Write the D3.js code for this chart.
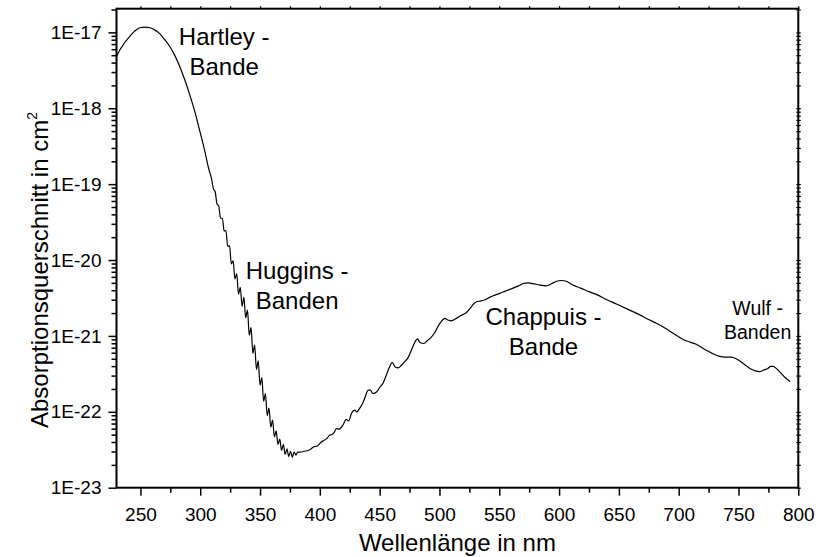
<!DOCTYPE html>
<html>
<head>
<meta charset="utf-8">
<script src="https://cdn.jsdelivr.net/npm/d3@7"></script>
<style>
  body { margin: 0; background: #fff; }
  svg { display: block; }
  text { font-family: "Liberation Sans", Arial, Helvetica, sans-serif; fill: #000; }
</style>
</head>
<body>
<svg id="chart" width="816" height="557"></svg>
<script>
// Ozone (O3) absorption cross-section vs. wavelength
const wavelengths = [
  230.0, 232.9, 235.0, 237.1, 241.3, 245.5, 249.6, 253.8, 258.0, 262.2,
  266.3, 270.5, 274.7, 278.9, 283.1, 287.2, 291.4, 295.6, 299.8, 303.9,
  307.0, 309.5, 311.0, 312.5, 314.0, 315.5, 317.0, 318.5, 320.0, 321.5,
  323.0, 324.5, 326.0, 327.5, 329.0, 330.5, 332.0, 333.5, 335.0, 336.5,
  338.0, 339.5, 341.0, 342.5, 344.0, 345.5, 347.0, 348.5, 350.0, 351.5,
  353.0, 354.5, 356.0, 357.5, 359.0, 360.5, 362.0, 363.5, 365.0, 366.5,
  368.0, 369.5, 371.0, 372.5, 374.0, 375.5, 377.0, 378.5, 380.0, 381.5,
  383.3, 387.0, 391.7, 395.0, 398.0, 401.0, 403.0, 406.0, 408.0, 410.0,
  412.0, 414.0, 416.0, 419.5, 422.0, 424.0, 426.5, 429.0, 431.0, 433.4,
  436.0, 438.0, 440.0, 442.0, 444.5, 447.4, 450.0, 452.9, 456.0, 458.5,
  460.5, 463.0, 465.5, 468.0, 471.0, 474.0, 477.0, 479.5, 481.5, 484.0,
  487.0, 490.0, 493.0, 496.0, 499.0, 502.0, 504.4, 507.0, 510.0, 514.0,
  518.0, 522.0, 526.0, 529.0, 531.0, 534.0, 537.0, 541.0, 545.0, 550.4,
  555.0, 561.5, 566.0, 570.0, 574.0, 578.0, 583.8, 589.4, 594.0, 598.0,
  601.9, 606.0, 611.6, 618.0, 625.6, 632.0, 639.5, 648.0, 659.0, 667.0,
  675.7, 681.0, 686.8, 692.0, 698.0, 703.0, 709.1, 714.7, 718.0, 723.1,
  728.0, 734.2, 739.0, 744.0, 748.1, 753.6, 757.0, 760.7, 764.0, 767.6,
  771.0, 774.5, 777.0, 779.0, 782.9, 785.5, 788.5, 793.2
];

// cross-section in cm^2
const crossSections = [
  4.79e-18, 5.89e-18, 6.61e-18, 7.41e-18, 8.91e-18, 1.05e-17, 1.15e-17, 1.17e-17, 1.15e-17, 1.07e-17,
  9.55e-18, 7.94e-18, 6.46e-18, 4.90e-18, 3.47e-18, 2.34e-18, 1.48e-18, 8.91e-19, 4.90e-19, 2.69e-19,
  1.62e-19, 1.17e-19, 8.71e-20, 7.94e-20, 5.50e-20, 5.13e-20, 3.55e-20, 3.55e-20, 2.40e-20, 2.45e-20,
  1.51e-20, 1.55e-20, 8.91e-21, 9.77e-21, 5.62e-21, 6.61e-21, 3.55e-21, 4.37e-21, 2.45e-21, 3.24e-21,
  1.74e-21, 2.19e-21, 1.02e-21, 1.29e-21, 5.89e-22, 7.59e-22, 3.63e-22, 4.68e-22, 2.24e-22, 2.82e-22,
  1.38e-22, 1.74e-22, 8.91e-23, 1.12e-22, 6.31e-23, 7.76e-23, 4.68e-23, 5.62e-23, 3.72e-23, 4.37e-23,
  3.09e-23, 3.72e-23, 2.75e-23, 3.24e-23, 2.57e-23, 3.02e-23, 2.51e-23, 2.95e-23, 2.69e-23, 2.95e-23,
  2.95e-23, 3.02e-23, 3.16e-23, 3.47e-23, 3.55e-23, 3.98e-23, 4.17e-23, 4.47e-23, 4.90e-23, 5.01e-23,
  5.37e-23, 6.03e-23, 5.89e-23, 6.76e-23, 7.94e-23, 7.59e-23, 9.55e-23, 1.05e-22, 1.00e-22, 1.12e-22,
  1.32e-22, 1.58e-22, 1.91e-22, 1.95e-22, 1.74e-22, 1.82e-22, 2.09e-22, 2.40e-22, 3.16e-22, 3.98e-22,
  4.47e-22, 3.89e-22, 3.80e-22, 4.07e-22, 4.57e-22, 5.25e-22, 6.76e-22, 8.32e-22, 9.12e-22, 8.13e-22,
  7.94e-22, 8.71e-22, 9.55e-22, 1.10e-21, 1.35e-21, 1.58e-21, 1.70e-21, 1.62e-21, 1.58e-21, 1.70e-21,
  1.86e-21, 2.00e-21, 2.34e-21, 2.69e-21, 2.82e-21, 2.88e-21, 2.95e-21, 3.16e-21, 3.39e-21, 3.63e-21,
  3.89e-21, 4.27e-21, 4.57e-21, 4.90e-21, 5.01e-21, 4.90e-21, 4.68e-21, 4.57e-21, 4.90e-21, 5.25e-21,
  5.37e-21, 5.25e-21, 4.68e-21, 4.27e-21, 3.80e-21, 3.47e-21, 3.02e-21, 2.63e-21, 2.19e-21, 1.91e-21,
  1.62e-21, 1.48e-21, 1.32e-21, 1.17e-21, 1.02e-21, 9.12e-22, 8.32e-22, 7.76e-22, 7.24e-22, 6.46e-22,
  5.89e-22, 5.37e-22, 5.25e-22, 5.25e-22, 5.01e-22, 4.37e-22, 3.98e-22, 3.63e-22, 3.47e-22, 3.39e-22,
  3.55e-22, 3.72e-22, 3.98e-22, 3.98e-22, 3.55e-22, 3.24e-22, 2.88e-22, 2.51e-22
];

const xMajorTicks = [250, 300, 350, 400, 450, 500, 550, 600, 650, 700, 750, 800];
const xMinorTicks = [275, 325, 375, 425, 475, 525, 575, 625, 675, 725, 775];
const yMajorTicks = [1e-23, 1e-22, 1e-21, 1e-20, 1e-19, 1e-18, 1e-17];
const yTickLabels = ["1E-23", "1E-22", "1E-21", "1E-20", "1E-19", "1E-18", "1E-17"];

// Band names, anchored in data coordinates (wavelength, cross-section)
const bandNames = [
  { lines: ["Hartley -", "Bande"],   wavelength: 320, sigma: 6.8e-18, big: true },
  { lines: ["Huggins -", "Banden"],  wavelength: 381, sigma: 5.7e-21, big: true },
  { lines: ["Chappuis -", "Bande"],  wavelength: 587, sigma: 1.39e-21, big: true },
  { lines: ["Wulf -", "Banden"],     wavelength: 766, sigma: 1.88e-21, big: false }
];

const xTitle = "Wellenlänge in nm";
const yTitle = "Absorptionsquerschnitt in cm";

const svg = d3.select("#chart");
const plot = { left: 116.5, right: 798.3, top: 8.7, bottom: 487.7 };

const x = d3.scaleLinear().domain([230, 800]).range([plot.left, plot.right]);
const y = d3.scaleLog().domain([1e-23, 2.05e-17]).range([plot.bottom, plot.top]);

// minor ticks of the log axis: 2..9 x 10^n inside the domain
const yMinorTicks = [];
for (let e = -23; e <= -17; e++) {
  for (let m = 2; m <= 9; m++) {
    const v = m * Math.pow(10, e);
    if (v <= y.domain()[1]) yMinorTicks.push(v);
  }
}

function styleAxis(g, width) {
  g.select(".domain").remove();
  g.selectAll(".tick line").attr("stroke", "#000").attr("stroke-width", width);
}

// bottom axis
svg.append("g")
  .attr("transform", `translate(0,${plot.bottom})`)
  .call(d3.axisBottom(x).tickValues(xMinorTicks).tickSize(5).tickFormat(""))
  .call(g => styleAxis(g, 1.5));
svg.append("g")
  .attr("transform", `translate(0,${plot.bottom})`)
  .call(d3.axisBottom(x).tickValues(xMajorTicks).tickSize(8).tickPadding(12).tickFormat(d3.format("d")))
  .call(g => styleAxis(g, 1.5))
  .call(g => g.selectAll(".tick text").attr("font-size", 19).attr("font-family", null));

// left axis
svg.append("g")
  .attr("transform", `translate(${plot.left},0)`)
  .call(d3.axisLeft(y).tickValues(yMinorTicks).tickSize(5).tickFormat(""))
  .call(g => styleAxis(g, 1.5));
svg.append("g")
  .attr("transform", `translate(${plot.left},0)`)
  .call(d3.axisLeft(y).tickValues(yMajorTicks).tickSize(8).tickPadding(7)
    .tickFormat((d, i) => yTickLabels[i]))
  .call(g => styleAxis(g, 1.5))
  .call(g => g.selectAll(".tick text").attr("font-size", 19).attr("font-family", null));

// top axis: short marks, no labels
svg.append("g")
  .attr("transform", `translate(0,${plot.top})`)
  .call(d3.axisTop(x).tickValues(xMajorTicks.concat(xMinorTicks)).tickSize(2.5).tickFormat(""))
  .call(g => styleAxis(g, 1.2));

// right axis: short marks crossing the frame, no labels
svg.append("g")
  .attr("transform", `translate(${plot.right},0)`)
  .call(d3.axisRight(y).tickValues(yMajorTicks.concat(yMinorTicks)).tickSize(2.5).tickFormat(""))
  .call(g => styleAxis(g, 1.2))
  .call(g => g.selectAll(".tick line").attr("x1", -2));

// frame
svg.append("rect")
  .attr("x", plot.left).attr("y", plot.top)
  .attr("width", plot.right - plot.left).attr("height", plot.bottom - plot.top)
  .attr("fill", "none").attr("stroke", "#000").attr("stroke-width", 2);

// spectrum
const line = d3.line()
  .x((d, i) => x(wavelengths[i]))
  .y(d => y(d))
  .curve(d3.curveMonotoneX);

svg.append("path")
  .datum(crossSections)
  .attr("d", line)
  .attr("fill", "none")
  .attr("stroke", "#000")
  .attr("stroke-width", 1.2)
  .attr("stroke-linejoin", "round");

// band names
bandNames.forEach(b => {
  const fs = b.big ? 24 : 19.5;
  const t = svg.append("text")
    .attr("x", x(b.wavelength))
    .attr("y", y(b.sigma))
    .attr("text-anchor", "middle")
    .attr("font-size", fs);
  b.lines.forEach((ln, i) => {
    t.append("tspan")
      .attr("x", x(b.wavelength))
      .attr("dy", i === 0 ? 0 : fs * 1.25)
      .text(ln);
  });
});

// axis titles
svg.append("text")
  .attr("x", (plot.left + plot.right) / 2)
  .attr("y", 551)
  .attr("text-anchor", "middle")
  .attr("font-size", 24)
  .text(xTitle);

const yt = svg.append("text")
  .attr("transform", "translate(48,428) rotate(-90)")
  .attr("text-anchor", "start")
  .attr("font-size", 24)
  .text(yTitle);
yt.append("tspan")
  .attr("font-size", 14)
  .attr("dy", -11)
  .text("2");
</script>
</body>
</html>
